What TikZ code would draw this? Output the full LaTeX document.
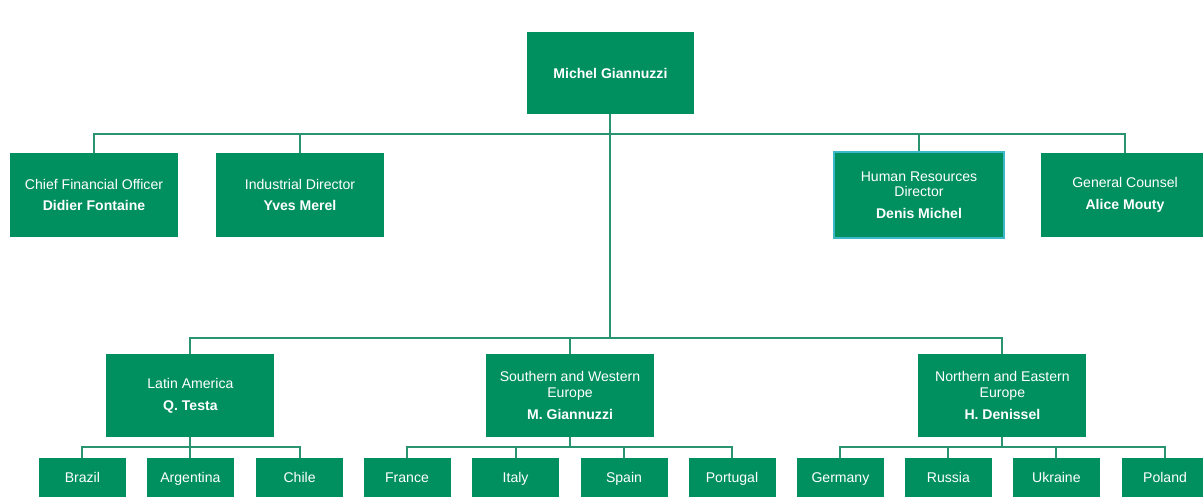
\documentclass[tikz,border=0pt]{standalone}
\usepackage{fontspec}
\setmainfont{Liberation Sans}
\usepackage{xcolor}
\usepackage{tikz}
\definecolor{OrgGreen}{HTML}{00905F}
\definecolor{LinkGreen}{HTML}{2A9470}
\definecolor{HRCyan}{HTML}{3DB8C8}

\begin{document}
\begin{tikzpicture}[
    box/.style={fill=OrgGreen, text=white, align=center, inner sep=0pt,
      minimum width=4.2cm, minimum height=2.1cm,
      font=\fontsize{10}{11}\selectfont},
    leaf/.style={box, minimum width=2.175cm, minimum height=1.05cm,
      text height=7.5pt, text depth=2pt},
    link/.style={draw=LinkGreen, line width=1.3pt}
  ]
      \fill[white] (0,0) rectangle (30.075,-12.425);
      \useasboundingbox (0,0) rectangle (30.075,-12.425);
      \clip (0,0) rectangle (30.075,-12.425);

      % CEO
      \node[box, minimum width=4.18cm, minimum height=2.05cm] (ceo) at (15.26,-1.825) {\textbf{Michel Giannuzzi}};

      % Corporate functions
      \node[box] (cfo) at (2.35,-4.875) {Chief Financial Officer\\[4.5pt]\textbf{Didier Fontaine}};
      \node[box] (ind) at (7.5,-4.875) {Industrial Director\\[4.5pt]\textbf{Yves Merel}};
      \node[box, draw=HRCyan, line width=0.8pt, minimum width=4.25cm, minimum height=2.15cm] (hr) at (22.975,-4.875) {Human Resources\\Director\\[4.5pt]\textbf{Denis Michel}};
      \node[box] (gc) at (28.125,-4.875) {General Counsel\\[4.5pt]\textbf{Alice Mouty}};

      % Regions
      \node[box, minimum height=2.08cm] (la) at (4.76,-9.8875) {Latin America\\[4.5pt]\textbf{Q. Testa}};
      \node[box, minimum height=2.08cm] (sw) at (14.25,-9.8875) {Southern and Western\\Europe\\[4.5pt]\textbf{M. Giannuzzi}};
      \node[box, minimum height=2.08cm] (ne) at (25.06,-9.8875) {Northern and Eastern\\Europe\\[4.5pt]\textbf{H. Denissel}};

      % Countries
      \node[leaf] (brazil) at (2.06,-11.975) {Brazil};
      \node[leaf] (argentina) at (4.76,-11.975) {Argentina};
      \node[leaf] (chile) at (7.49,-11.975) {Chile};
      \node[leaf] (france) at (10.175,-11.975) {France};
      \node[leaf] (italy) at (12.89,-11.975) {Italy};
      \node[leaf] (spain) at (15.6,-11.975) {Spain};
      \node[leaf] (portugal) at (18.3,-11.975) {Portugal};
      \node[leaf] (germany) at (21.01,-11.975) {Germany};
      \node[leaf] (russia) at (23.71,-11.975) {Russia};
      \node[leaf] (ukraine) at (26.41,-11.975) {Ukraine};
      \node[leaf] (poland) at (29.125,-11.975) {Poland};

      % Connectors
      \coordinate (topbus) at (15.26,-3.35);
      \coordinate (regbus) at (15.26,-8.45);
      \draw[link] (cfo.north) |- (topbus) -| (gc.north);
      \draw[link] (ind.north) -- (ind.north |- topbus);
      \draw[link] (hr.north) -- (hr.north |- topbus);
      \draw[link] (ceo.south) -- (regbus);
      \draw[link] (la.north) |- (regbus) -| (ne.north);
      \draw[link] (sw.north) -- (sw.north |- regbus);

      \draw[link] (la.south) -- ++(0,-0.25) coordinate (labus);
      \draw[link] (brazil.north) |- (labus) -| (chile.north);
      \draw[link] (argentina.north) -- (argentina.north |- labus);

      \draw[link] (sw.south) -- ++(0,-0.25) coordinate (swbus);
      \draw[link] (france.north) |- (swbus) -| (portugal.north);
      \draw[link] (italy.north) -- (italy.north |- swbus);
      \draw[link] (spain.north) -- (spain.north |- swbus);

      \draw[link] (ne.south) -- ++(0,-0.25) coordinate (nebus);
      \draw[link] (germany.north) |- (nebus) -| (poland.north);
      \draw[link] (russia.north) -- (russia.north |- nebus);
      \draw[link] (ukraine.north) -- (ukraine.north |- nebus);

    \end{tikzpicture}
\end{document}
